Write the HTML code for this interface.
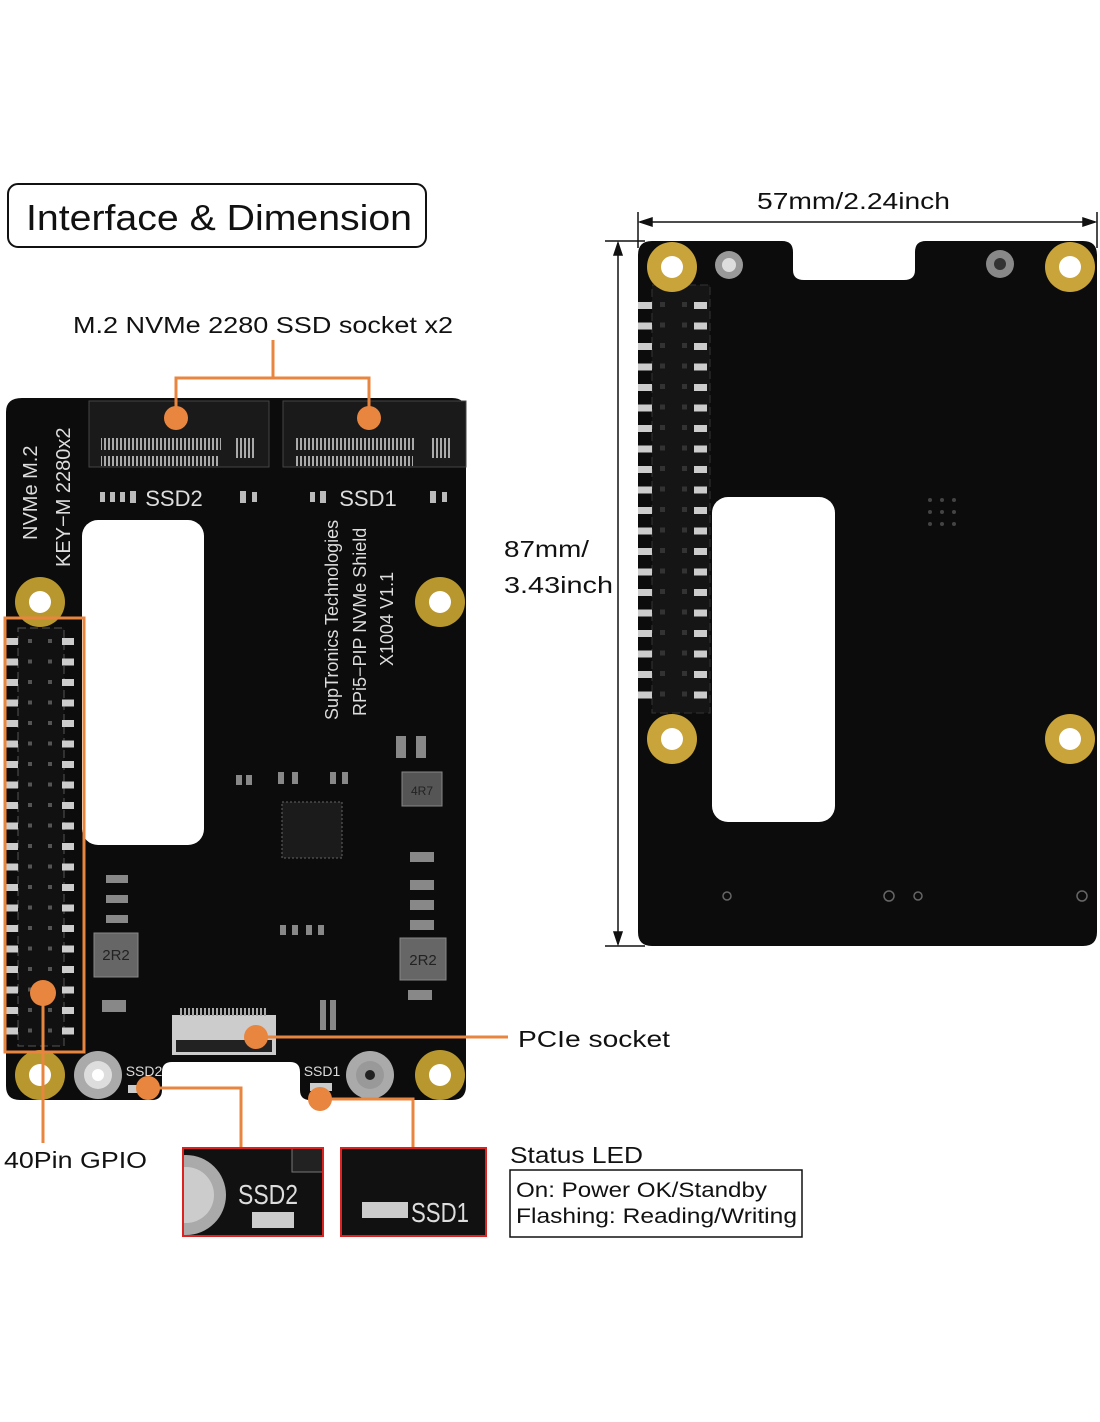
<!DOCTYPE html>
<html><head><meta charset="utf-8"><style>
html,body{margin:0;padding:0;background:#fff;}
svg{display:block;}
text{font-family:"Liberation Sans",sans-serif;}
</style></head><body>
<svg width="1100" height="1422" viewBox="0 0 1100 1422" xmlns="http://www.w3.org/2000/svg">
<defs>
<pattern id="pinsL" x="0" y="632" width="80" height="20.5" patternUnits="userSpaceOnUse">
<rect x="6" y="6" width="12" height="7" fill="#ccc"/>
<rect x="62" y="6" width="12" height="7" fill="#ccc"/>
<rect x="28" y="7" width="4" height="4" fill="#555"/>
<rect x="48" y="7" width="4" height="4" fill="#555"/>
</pattern>
<pattern id="pinsR" x="636" y="296" width="80" height="20.5" patternUnits="userSpaceOnUse">
<rect x="2" y="6" width="14" height="7" fill="#ccc"/>
<rect x="58" y="6" width="13" height="7" fill="#ccc"/>
<rect x="24" y="6" width="5" height="5" fill="#333"/>
<rect x="46" y="6" width="5" height="5" fill="#333"/>
</pattern>
<pattern id="teeth" x="0" y="0" width="4" height="10" patternUnits="userSpaceOnUse">
<rect x="0" y="0" width="2" height="10" fill="#aaa"/>
</pattern>
<clipPath id="c1"><rect x="183" y="1148" width="140" height="88"/></clipPath>
</defs>

<rect x="8" y="184" width="418" height="63" rx="10" fill="#fff" stroke="#111" stroke-width="2"/>
<text x="26" y="230" font-size="36" fill="#111" textLength="386" lengthAdjust="spacingAndGlyphs">Interface &amp; Dimension</text>

<text x="73" y="333" font-size="23" fill="#111" textLength="380" lengthAdjust="spacingAndGlyphs">M.2 NVMe 2280 SSD socket x2</text>

<!-- LEFT BOARD -->
<path d="M22 398 H452 Q466 398 466 412 V1086 Q466 1100 452 1100 H310 Q300 1100 300 1090 V1072 Q300 1062 290 1062 H172 Q162 1062 162 1072 V1090 Q162 1100 152 1100 H20 Q6 1100 6 1086 V412 Q6 398 22 398 Z" fill="#0c0c0c"/>
<rect x="82" y="520" width="122" height="325" rx="16" fill="#fff"/>
<rect x="89" y="401" width="180" height="66" fill="#1a1a1a" stroke="#444"/>
<rect x="101" y="438" width="120" height="12" fill="url(#teeth)"/>
<rect x="101" y="456" width="117" height="10" fill="url(#teeth)"/>
<rect x="236" y="438" width="18" height="20" fill="url(#teeth)"/>
<rect x="283" y="401" width="183" height="66" fill="#1a1a1a" stroke="#444"/>
<rect x="296" y="438" width="120" height="12" fill="url(#teeth)"/>
<rect x="296" y="456" width="117" height="10" fill="url(#teeth)"/>
<rect x="432" y="438" width="18" height="20" fill="url(#teeth)"/>
<text x="174" y="506" font-size="22" fill="#ddd" text-anchor="middle">SSD2</text>
<text x="368" y="506" font-size="22" fill="#ddd" text-anchor="middle">SSD1</text>
<g fill="#bbb">
<rect x="100" y="492" width="5" height="10"/><rect x="110" y="492" width="5" height="10"/><rect x="120" y="492" width="5" height="10"/><rect x="130" y="491" width="6" height="12"/>
<rect x="240" y="491" width="6" height="12"/><rect x="252" y="492" width="5" height="10"/>
<rect x="310" y="492" width="5" height="10"/><rect x="320" y="491" width="6" height="12"/>
<rect x="430" y="491" width="6" height="12"/><rect x="442" y="492" width="5" height="10"/>
</g>
<text transform="translate(37,540) rotate(-90)" font-size="20" fill="#ddd">NVMe M.2</text>
<text transform="translate(70,567) rotate(-90)" font-size="20" fill="#ddd">KEY−M 2280x2</text>
<text transform="translate(338,720) rotate(-90)" font-size="18" fill="#ddd">SupTronics Technologies</text>
<text transform="translate(366,716) rotate(-90)" font-size="18" fill="#ddd">RPi5−PIP NVMe Shield</text>
<text transform="translate(393,666) rotate(-90)" font-size="18" fill="#ddd">X1004  V1.1</text>
<g>
<circle cx="40" cy="602" r="25" fill="#b8982e"/><circle cx="40" cy="602" r="11" fill="#fff"/>
<circle cx="440" cy="602" r="25" fill="#b8982e"/><circle cx="440" cy="602" r="11" fill="#fff"/>
<circle cx="40" cy="1075" r="25" fill="#b8982e"/><circle cx="40" cy="1075" r="11" fill="#fff"/>
<circle cx="440" cy="1075" r="25" fill="#b8982e"/><circle cx="440" cy="1075" r="11" fill="#fff"/>
<circle cx="98" cy="1075" r="24" fill="#aaa"/><circle cx="98" cy="1075" r="14" fill="#ddd"/><circle cx="98" cy="1075" r="6" fill="#fff"/>
<circle cx="370" cy="1075" r="24" fill="#aaa"/><circle cx="370" cy="1075" r="14" fill="#999"/><circle cx="370" cy="1075" r="5" fill="#222"/>
</g>
<rect x="18" y="628" width="46" height="418" fill="#111" stroke="#555" stroke-dasharray="8 4"/>
<rect x="6" y="632" width="75" height="410" fill="url(#pinsL)"/>
<rect x="5" y="618" width="79" height="434" fill="none" stroke="#e8853f" stroke-width="3"/>
<rect x="282" y="802" width="60" height="56" fill="#1b1b1b" stroke="#666" stroke-dasharray="2 2"/>
<rect x="402" y="772" width="40" height="34" fill="#555" stroke="#888"/>
<text x="422" y="795" font-size="12" fill="#222" text-anchor="middle">4R7</text>
<rect x="94" y="933" width="44" height="44" fill="#666" stroke="#888"/>
<text x="116" y="960" font-size="15" fill="#222" text-anchor="middle">2R2</text>
<rect x="400" y="938" width="46" height="42" fill="#666" stroke="#888"/>
<text x="423" y="965" font-size="15" fill="#222" text-anchor="middle">2R2</text>
<g fill="#888">
<rect x="396" y="736" width="10" height="22"/><rect x="416" y="736" width="10" height="22"/>
<rect x="410" y="852" width="24" height="10"/><rect x="410" y="880" width="24" height="10"/><rect x="410" y="900" width="24" height="10"/><rect x="410" y="920" width="24" height="10"/>
<rect x="106" y="875" width="22" height="8"/><rect x="106" y="895" width="22" height="8"/><rect x="106" y="915" width="22" height="8"/>
<rect x="102" y="1000" width="24" height="12"/><rect x="408" y="990" width="24" height="10"/>
<rect x="236" y="775" width="6" height="10"/><rect x="246" y="775" width="6" height="10"/><rect x="278" y="772" width="6" height="12"/><rect x="292" y="772" width="6" height="12"/><rect x="330" y="772" width="6" height="12"/><rect x="342" y="772" width="6" height="12"/>
<rect x="280" y="925" width="6" height="10"/><rect x="292" y="925" width="6" height="10"/><rect x="306" y="925" width="6" height="10"/><rect x="318" y="925" width="6" height="10"/>
<rect x="320" y="1000" width="6" height="30"/><rect x="330" y="1000" width="6" height="30"/>
</g>
<rect x="172" y="1015" width="104" height="40" fill="#ccc"/>
<rect x="176" y="1040" width="96" height="12" fill="#222"/>
<rect x="180" y="1008" width="88" height="8" fill="url(#teeth)"/>
<text x="144" y="1076" font-size="14" fill="#ddd" text-anchor="middle">SSD2</text>
<text x="322" y="1076" font-size="14" fill="#ddd" text-anchor="middle">SSD1</text>
<rect x="128" y="1085" width="18" height="8" fill="#ccc"/>
<rect x="310" y="1083" width="22" height="8" fill="#ccc"/>

<g stroke="#e8853f" stroke-width="3" fill="none">
<path d="M273 340 V378 M176 418 V378 H369 V418"/>
<path d="M43 993 V1143"/>
<path d="M256 1037 H508"/>
<path d="M148 1088 H241 V1147"/>
<path d="M320 1099 H413 V1147"/>
</g>
<g fill="#e8853f">
<circle cx="176" cy="418" r="12"/><circle cx="369" cy="418" r="12"/>
<circle cx="43" cy="993" r="13"/><circle cx="256" cy="1037" r="12"/>
<circle cx="148" cy="1088" r="12"/><circle cx="320" cy="1099" r="12"/>
</g>
<text x="518" y="1047" font-size="23" fill="#111" textLength="152" lengthAdjust="spacingAndGlyphs">PCIe socket</text>
<text x="4" y="1168" font-size="23" fill="#111" textLength="143" lengthAdjust="spacingAndGlyphs">40Pin GPIO</text>

<rect x="183" y="1148" width="140" height="88" fill="#111"/>
<g clip-path="url(#c1)">
<circle cx="186" cy="1195" r="40" fill="#aaa"/><circle cx="186" cy="1195" r="28" fill="#ccc"/>
</g>
<rect x="292" y="1148" width="31" height="24" fill="#222" stroke="#777"/>
<text x="268" y="1204" font-size="28" fill="#ddd" text-anchor="middle" textLength="60" lengthAdjust="spacingAndGlyphs">SSD2</text>
<rect x="252" y="1212" width="42" height="16" fill="#ccc"/>
<rect x="183" y="1148" width="140" height="88" fill="none" stroke="#d22" stroke-width="2"/>
<rect x="341" y="1148" width="145" height="88" fill="#111" stroke="#d22" stroke-width="2"/>
<rect x="362" y="1202" width="46" height="16" fill="#ccc"/>
<text x="411" y="1222" font-size="28" fill="#ddd" textLength="58" lengthAdjust="spacingAndGlyphs">SSD1</text>

<text x="510" y="1163" font-size="23" fill="#111" textLength="133" lengthAdjust="spacingAndGlyphs">Status LED</text>
<rect x="510" y="1170" width="292" height="67" fill="#fff" stroke="#111" stroke-width="1.5"/>
<text x="516" y="1197" font-size="21" fill="#111" textLength="251" lengthAdjust="spacingAndGlyphs">On: Power OK/Standby</text>
<text x="516" y="1223" font-size="21" fill="#111" textLength="281" lengthAdjust="spacingAndGlyphs">Flashing: Reading/Writing</text>

<!-- RIGHT BOARD -->
<path d="M652 241 H782 Q793 241 793 252 V270 Q793 280 804 280 H904 Q915 280 915 270 V252 Q915 241 926 241 H1083 Q1097 241 1097 255 V932 Q1097 946 1083 946 H652 Q638 946 638 932 V255 Q638 241 652 241 Z" fill="#0c0c0c"/>
<rect x="712" y="497" width="123" height="325" rx="16" fill="#fff"/>
<rect x="652" y="285" width="58" height="428" fill="#151515" stroke="#333" stroke-dasharray="8 4"/>
<rect x="636" y="296" width="76" height="408" fill="url(#pinsR)"/>
<circle cx="672" cy="267" r="25" fill="#c9a43a"/><circle cx="672" cy="267" r="11" fill="#fff"/>
<circle cx="1070" cy="267" r="25" fill="#c9a43a"/><circle cx="1070" cy="267" r="11" fill="#fff"/>
<circle cx="672" cy="739" r="25" fill="#c9a43a"/><circle cx="672" cy="739" r="11" fill="#fff"/>
<circle cx="1070" cy="739" r="25" fill="#c9a43a"/><circle cx="1070" cy="739" r="11" fill="#fff"/>
<circle cx="729" cy="265" r="14" fill="#999"/><circle cx="729" cy="265" r="7" fill="#ddd"/>
<circle cx="1000" cy="264" r="14" fill="#888"/><circle cx="1000" cy="264" r="6" fill="#333"/>
<g fill="none" stroke="#666" stroke-width="1.5">
<circle cx="727" cy="896" r="4"/><circle cx="889" cy="896" r="5"/><circle cx="918" cy="896" r="4"/><circle cx="1082" cy="896" r="5"/>
</g>
<g fill="#444">
<circle cx="930" cy="500" r="2"/><circle cx="942" cy="500" r="2"/><circle cx="954" cy="500" r="2"/>
<circle cx="930" cy="512" r="2"/><circle cx="942" cy="512" r="2"/><circle cx="954" cy="512" r="2"/>
<circle cx="930" cy="524" r="2"/><circle cx="942" cy="524" r="2"/><circle cx="954" cy="524" r="2"/>
</g>

<g stroke="#111" stroke-width="1.5" fill="#111">
<line x1="638" y1="212" x2="638" y2="248"/>
<line x1="1097" y1="212" x2="1097" y2="248"/>
<line x1="640" y1="222" x2="1095" y2="222"/>
<path d="M640 222 l12 -4 v8 z"/><path d="M1095 222 l-12 -4 v8 z"/>
<line x1="605" y1="241" x2="645" y2="241"/>
<line x1="605" y1="946" x2="645" y2="946"/>
<line x1="618" y1="243" x2="618" y2="944"/>
<path d="M618 243 l-4 12 h8 z"/><path d="M618 944 l-4 -12 h8 z"/>
</g>
<text x="757" y="209" font-size="23" fill="#111" textLength="193" lengthAdjust="spacingAndGlyphs">57mm/2.24inch</text>
<text x="504" y="557" font-size="23" fill="#111" textLength="85" lengthAdjust="spacingAndGlyphs">87mm/</text>
<text x="504" y="593" font-size="23" fill="#111" textLength="109" lengthAdjust="spacingAndGlyphs">3.43inch</text>
</svg>
</body></html>
